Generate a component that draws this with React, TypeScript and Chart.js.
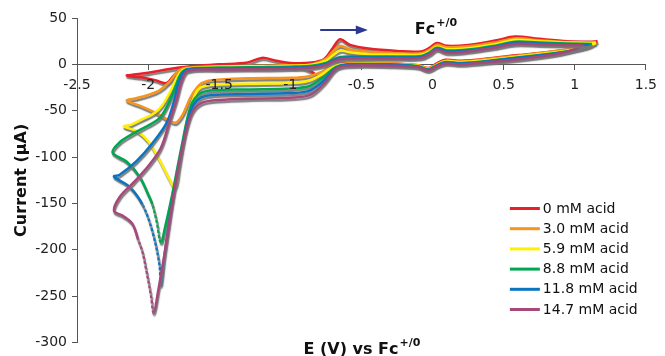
import React, { useEffect, useRef } from 'react';
import { Chart, registerables } from 'chart.js';

Chart.register(...registerables);

// ---------- data (E in V vs Fc+/0, current in µA) ----------
const seriesLabels = ['0 mM acid', '3.0 mM acid', '5.9 mM acid', '8.8 mM acid', '11.8 mM acid', '14.7 mM acid'];
const seriesColors = ['#E8202A', '#F7941E', '#FFF000', '#00A650', '#0A74C0', '#A6487A'];

const xTickValues = [-2.5, -2, -1.5, -1, -0.5, 0, 0.5, 1, 1.5];
const yTickValues = [-300, -250, -200, -150, -100, -50, 0, 50];

const acid0: [number, number][] = [
  [1.16, 25], [1.1, 20], [1.0, 17], [0.8, 13], [0.6, 10], [0.4, 6.5], [0.2, 4], [0.09, 5], [0.03, 1], [-0.03, -4],
  [-0.1, -1], [-0.3, 1], [-0.6, 1.5], [-0.72, -1], [-0.79, -13], [-0.86, -7], [-0.95, -3], [-1.2, -3], [-1.5, -3],
  [-1.7, -4], [-1.8, -9], [-1.87, -20], [-1.95, -17], [-2.05, -14], [-2.15, -12],
  [-2.1, -11], [-2.0, -9], [-1.85, -5], [-1.7, -2], [-1.5, 0], [-1.3, 2], [-1.2, 7], [-1.1, 4], [-1.0, 1.5],
  [-0.85, 2], [-0.76, 6], [-0.7, 18], [-0.65, 27], [-0.58, 21], [-0.45, 17], [-0.25, 14.5], [-0.08, 14],
  [-0.02, 18], [0.03, 23], [0.1, 20], [0.25, 21], [0.45, 26], [0.58, 30], [0.75, 27.5], [0.95, 25], [1.1, 24.5], [1.16, 25],
];

const acid3_0: [number, number][] = [
  [1.15, 24], [1.08, 19], [0.9, 15], [0.66, 10.5], [0.4, 6], [0.2, 3], [0.09, 4], [0.03, 0], [-0.03, -4.5],
  [-0.1, -1], [-0.3, 1], [-0.6, 1], [-0.7, -1], [-0.78, -8], [-0.88, -13], [-1.0, -14.5], [-1.3, -15], [-1.55, -17],
  [-1.63, -21], [-1.7, -35], [-1.76, -55], [-1.81, -63], [-1.87, -59], [-1.95, -52], [-2.05, -45], [-2.15, -39],
  [-2.1, -37], [-2.0, -33], [-1.92, -28], [-1.85, -19], [-1.8, -9], [-1.74, -4], [-1.5, -2], [-1.2, -1.5], [-1.0, -1],
  [-0.85, 0], [-0.75, 6], [-0.7, 14], [-0.65, 20], [-0.58, 16], [-0.45, 13.5], [-0.25, 12], [-0.08, 12],
  [-0.02, 16], [0.03, 21], [0.1, 18.5], [0.25, 19.5], [0.45, 24], [0.58, 28], [0.75, 26], [0.95, 24], [1.1, 23.5], [1.15, 24],
];

const acid5_9: [number, number][] = [
  [1.15, 23], [1.08, 18.5], [0.9, 14], [0.66, 9.5], [0.4, 5], [0.2, 2.5], [0.09, 3.5], [0.03, -0.5], [-0.03, -5],
  [-0.1, -1.5], [-0.3, 0.5], [-0.6, 0.5], [-0.7, -2], [-0.78, -11], [-0.88, -18], [-1.0, -20], [-1.3, -21], [-1.55, -22],
  [-1.64, -26], [-1.69, -40], [-1.74, -70], [-1.78, -110], [-1.81, -133], [-1.86, -121], [-1.92, -103], [-2.0, -83],
  [-2.08, -72], [-2.17, -67],
  [-2.12, -65], [-2.04, -59], [-1.96, -53], [-1.9, -44], [-1.84, -28], [-1.79, -12], [-1.74, -5], [-1.5, -2.5],
  [-1.2, -2], [-1.0, -1.5], [-0.85, -0.5], [-0.75, 4], [-0.7, 10], [-0.65, 15], [-0.58, 13], [-0.45, 11], [-0.25, 10.5],
  [-0.08, 10.5], [-0.02, 14], [0.03, 19], [0.1, 16.5], [0.25, 17.5], [0.45, 22], [0.58, 26.5], [0.75, 25], [0.95, 23.5],
  [1.1, 23], [1.15, 23],
];

const acid8_8: [number, number][] = [
  [1.12, 22], [1.05, 17.5], [0.9, 13], [0.66, 8.5], [0.4, 4], [0.2, 1.5], [0.09, 2.5], [0.03, -1], [-0.03, -5.5],
  [-0.1, -2], [-0.3, 0], [-0.6, 0], [-0.68, -3], [-0.76, -13], [-0.86, -23], [-1.0, -26], [-1.3, -27], [-1.55, -28],
  [-1.64, -32], [-1.7, -45], [-1.76, -85], [-1.83, -140], [-1.88, -175], [-1.91, -192], [-1.94, -169], [-1.97, -151],
  [-2.0, -140], [-2.06, -121], [-2.15, -105], [-2.25, -95],
  [-2.2, -84], [-2.11, -75], [-2.0, -66], [-1.92, -58], [-1.86, -43], [-1.81, -25], [-1.77, -10], [-1.72, -5],
  [-1.5, -3.5], [-1.2, -3], [-1.0, -2.5], [-0.85, -1.5], [-0.75, 1.5], [-0.7, 5], [-0.65, 8], [-0.58, 8.5],
  [-0.45, 8.5], [-0.25, 8.5], [-0.08, 9], [-0.02, 13], [0.03, 18], [0.1, 15], [0.25, 16], [0.45, 20.5], [0.58, 24.5],
  [0.75, 23.5], [0.95, 22.5], [1.12, 22],
];

const acid11_8: [number, number][] = [
  [1.1, 21.5], [1.03, 17], [0.9, 12.5], [0.66, 8], [0.4, 3.5], [0.2, 1], [0.09, 2], [0.03, -1.5], [-0.03, -6],
  [-0.1, -2.5], [-0.3, -0.5], [-0.6, -0.5], [-0.68, -4], [-0.76, -17], [-0.86, -28], [-1.0, -31], [-1.3, -32],
  [-1.55, -33], [-1.64, -37], [-1.7, -50], [-1.76, -90], [-1.83, -148], [-1.88, -200], [-1.91, -238], [-1.92, -216],
  [-1.97, -180], [-2.04, -151], [-2.13, -132], [-2.24, -121],
  [-2.2, -119], [-2.08, -104], [-1.97, -85], [-1.87, -63], [-1.82, -41], [-1.78, -17], [-1.73, -6], [-1.5, -4.5],
  [-1.2, -4], [-1.0, -3.5], [-0.85, -2.5], [-0.75, 0.5], [-0.7, 4], [-0.65, 7], [-0.58, 7.5], [-0.45, 7.5],
  [-0.25, 7.5], [-0.08, 8], [-0.02, 12], [0.03, 17], [0.1, 14], [0.25, 15], [0.45, 19.5], [0.58, 23.5], [0.75, 22.5],
  [0.95, 21.5], [1.1, 21.5],
];

const acid14_7: [number, number][] = [
  [1.06, 21], [1.0, 16.5], [0.9, 12], [0.66, 6.5], [0.4, 2.5], [0.2, 0], [0.09, 1], [0.03, -2], [-0.03, -6.5],
  [-0.1, -3], [-0.3, -1.5], [-0.6, -1.5], [-0.68, -5], [-0.76, -20], [-0.86, -33], [-1.0, -36], [-1.3, -37],
  [-1.55, -39], [-1.64, -43], [-1.7, -55], [-1.76, -90], [-1.82, -140], [-1.88, -200], [-1.93, -245], [-1.96, -268],
  [-1.98, -249], [-2.01, -224], [-2.04, -202], [-2.07, -189], [-2.11, -172], [-2.18, -163], [-2.24, -158],
  [-2.2, -143], [-2.1, -127], [-1.99, -108], [-1.91, -90], [-1.85, -62], [-1.8, -38], [-1.76, -16], [-1.72, -7],
  [-1.5, -5.5], [-1.2, -5], [-1.0, -4.5], [-0.85, -3.5], [-0.75, -0.5], [-0.7, 3], [-0.65, 5.5], [-0.58, 6.5],
  [-0.45, 6.5], [-0.25, 6.5], [-0.08, 7], [-0.02, 11], [0.03, 16], [0.1, 12.5], [0.25, 14], [0.45, 18.5], [0.58, 22],
  [0.75, 21.5], [0.95, 21], [1.06, 21],
];

const seriesData = [acid0, acid3_0, acid5_9, acid8_8, acid11_8, acid14_7];

// point-index ranges (start segment, end segment) drawn dotted in the original
const dottedSegments: ([number, number] | null)[] = [null, null, null, [23, 24], [23, 25], [24, 27]];

const FONT = "'DejaVu Sans', Verdana, sans-serif";

const shadowPlugin = {
  id: 'lineShadow',
  beforeDatasetDraw(chart: any) {
    const c = chart.ctx;
    c.save();
    c.shadowColor = 'rgba(120,120,120,1)';
    c.shadowBlur = 1.2;
    c.shadowOffsetX = 0.8;
    c.shadowOffsetY = 2.2;
  },
  afterDatasetDraw(chart: any) {
    chart.ctx.restore();
  },
};

const overlayPlugin = {
  id: 'overlay',
  afterDraw(chart: any) {
    const ctx = chart.ctx;
    const area = chart.chartArea;
    const xs = chart.scales.x;
    const ys = chart.scales.y;
    ctx.save();
    ctx.fillStyle = '#111';
    ctx.textBaseline = 'alphabetic';

    // x-axis title with superscript
    const main = 'E (V) vs Fc';
    const sup = '+/0';
    ctx.font = `bold 16px ${FONT}`;
    const wMain = ctx.measureText(main).width;
    ctx.font = `bold 11px ${FONT}`;
    const wSup = ctx.measureText(sup).width;
    const cx = (area.left + area.right) / 2;
    const startX = cx - (wMain + wSup) / 2;
    const base = 354;
    ctx.font = `bold 16px ${FONT}`;
    ctx.textAlign = 'left';
    ctx.fillText(main, startX, base);
    ctx.font = `bold 11px ${FONT}`;
    ctx.fillText(sup, startX + wMain + 1, base - 8);

    // y-axis title
    ctx.save();
    ctx.translate(25.5, (area.top + area.bottom) / 2);
    ctx.rotate(-Math.PI / 2);
    ctx.font = `bold 16px ${FONT}`;
    ctx.textAlign = 'center';
    ctx.fillText('Current (\u03BCA)', 0, 0);
    ctx.restore();

    // Fc+/0 annotation
    const fx = xs.getPixelForValue(-0.125);
    const fy = ys.getPixelForValue(33);
    ctx.font = `bold 16px ${FONT}`;
    ctx.textAlign = 'left';
    ctx.fillText('Fc', fx, fy);
    const wFc = ctx.measureText('Fc').width;
    ctx.font = `bold 11px ${FONT}`;
    ctx.fillText('+/0', fx + wFc + 1, fy - 8);

    // scan direction arrow
    const ax1 = xs.getPixelForValue(-0.79);
    const ax2 = xs.getPixelForValue(-0.455);
    const ay = ys.getPixelForValue(37);
    ctx.strokeStyle = '#2B3990';
    ctx.fillStyle = '#2B3990';
    ctx.lineWidth = 2;
    ctx.beginPath();
    ctx.moveTo(ax1, ay);
    ctx.lineTo(ax2 - 10, ay);
    ctx.stroke();
    ctx.beginPath();
    ctx.moveTo(ax2, ay);
    ctx.lineTo(ax2 - 12, ay - 4.5);
    ctx.lineTo(ax2 - 12, ay + 4.5);
    ctx.closePath();
    ctx.fill();

    // legend
    const lx = area.right - 136;
    const ly0 = 208.5;
    ctx.font = `14px ${FONT}`;
    ctx.textBaseline = 'middle';
    ctx.textAlign = 'left';
    seriesLabels.forEach((label, i) => {
      const y = ly0 + i * 20.2;
      ctx.strokeStyle = seriesColors[i];
      ctx.lineWidth = 3;
      ctx.beginPath();
      ctx.moveTo(lx, y);
      ctx.lineTo(lx + 30, y);
      ctx.stroke();
      ctx.fillStyle = '#111';
      ctx.fillText(label, lx + 33, y + 0.5);
    });
    ctx.restore();
  },
};

export default function App() {
  const canvasRef = useRef<HTMLCanvasElement | null>(null);

  useEffect(() => {
    const canvas = canvasRef.current;
    if (!canvas) return;
    const datasets = seriesData.map((pts, i) => {
      const range = dottedSegments[i];
      return {
        label: seriesLabels[i],
        data: pts.map(([x, y]) => ({ x, y })),
        borderColor: seriesColors[i],
        backgroundColor: seriesColors[i],
        borderWidth: 2.5,
        showLine: true,
        pointRadius: 0,
        pointHoverRadius: 0,
        tension: 0.35,
        fill: false,
        order: seriesData.length - 1 - i,
        segment: {
          borderDash: (c: any) =>
            range && c.p0DataIndex >= range[0] && c.p0DataIndex <= range[1] ? [3, 2] : undefined,
        },
      };
    });

    const chart = new Chart(canvas, {
      type: 'scatter',
      data: { datasets },
      options: {
        animation: false,
        responsive: false,
        maintainAspectRatio: false,
        events: [],
        layout: { padding: { top: 18, right: 14, left: 0, bottom: 0 } },
        plugins: {
          legend: { display: false },
          tooltip: { enabled: false },
        },
        scales: {
          x: {
            type: 'linear',
            min: -2.5,
            max: 1.5,
            position: { y: 0 } as any,
            afterBuildTicks: (s: any) => {
              s.ticks = xTickValues.map((v) => ({ value: v }));
            },
            afterFit: (s: any) => {
              s.height = 19;
            },
            ticks: {
              z: 1,
              callback: (v: any) => String(Number(v)),
              font: { family: FONT, size: 14 },
              color: '#222',
              padding: 8,
              maxRotation: 0,
              autoSkip: false,
            },
            grid: { drawOnChartArea: false, drawTicks: true, tickLength: 5, color: '#555' },
            border: { display: true, color: '#555', width: 1 },
          },
          y: {
            type: 'linear',
            min: -300,
            max: 50,
            position: 'left',
            afterBuildTicks: (s: any) => {
              s.ticks = yTickValues.map((v) => ({ value: v }));
            },
            afterFit: (s: any) => {
              s.width = 77;
            },
            ticks: {
              callback: (v: any) => String(Number(v)),
              font: { family: FONT, size: 14 },
              color: '#222',
              padding: 5,
              autoSkip: false,
            },
            grid: { drawOnChartArea: false, drawTicks: true, tickLength: 5, color: '#555' },
            border: { display: true, color: '#555', width: 1 },
          },
        },
      },
      plugins: [shadowPlugin, overlayPlugin],
    });
    return () => chart.destroy();
  }, []);

  return (
    <div style={{ position: 'absolute', left: 0, top: 0, width: 665, height: 356, background: '#fff' }}>
      <canvas ref={canvasRef} width={665} height={356} style={{ display: 'block', width: 665, height: 356 }} />
    </div>
  );
}
